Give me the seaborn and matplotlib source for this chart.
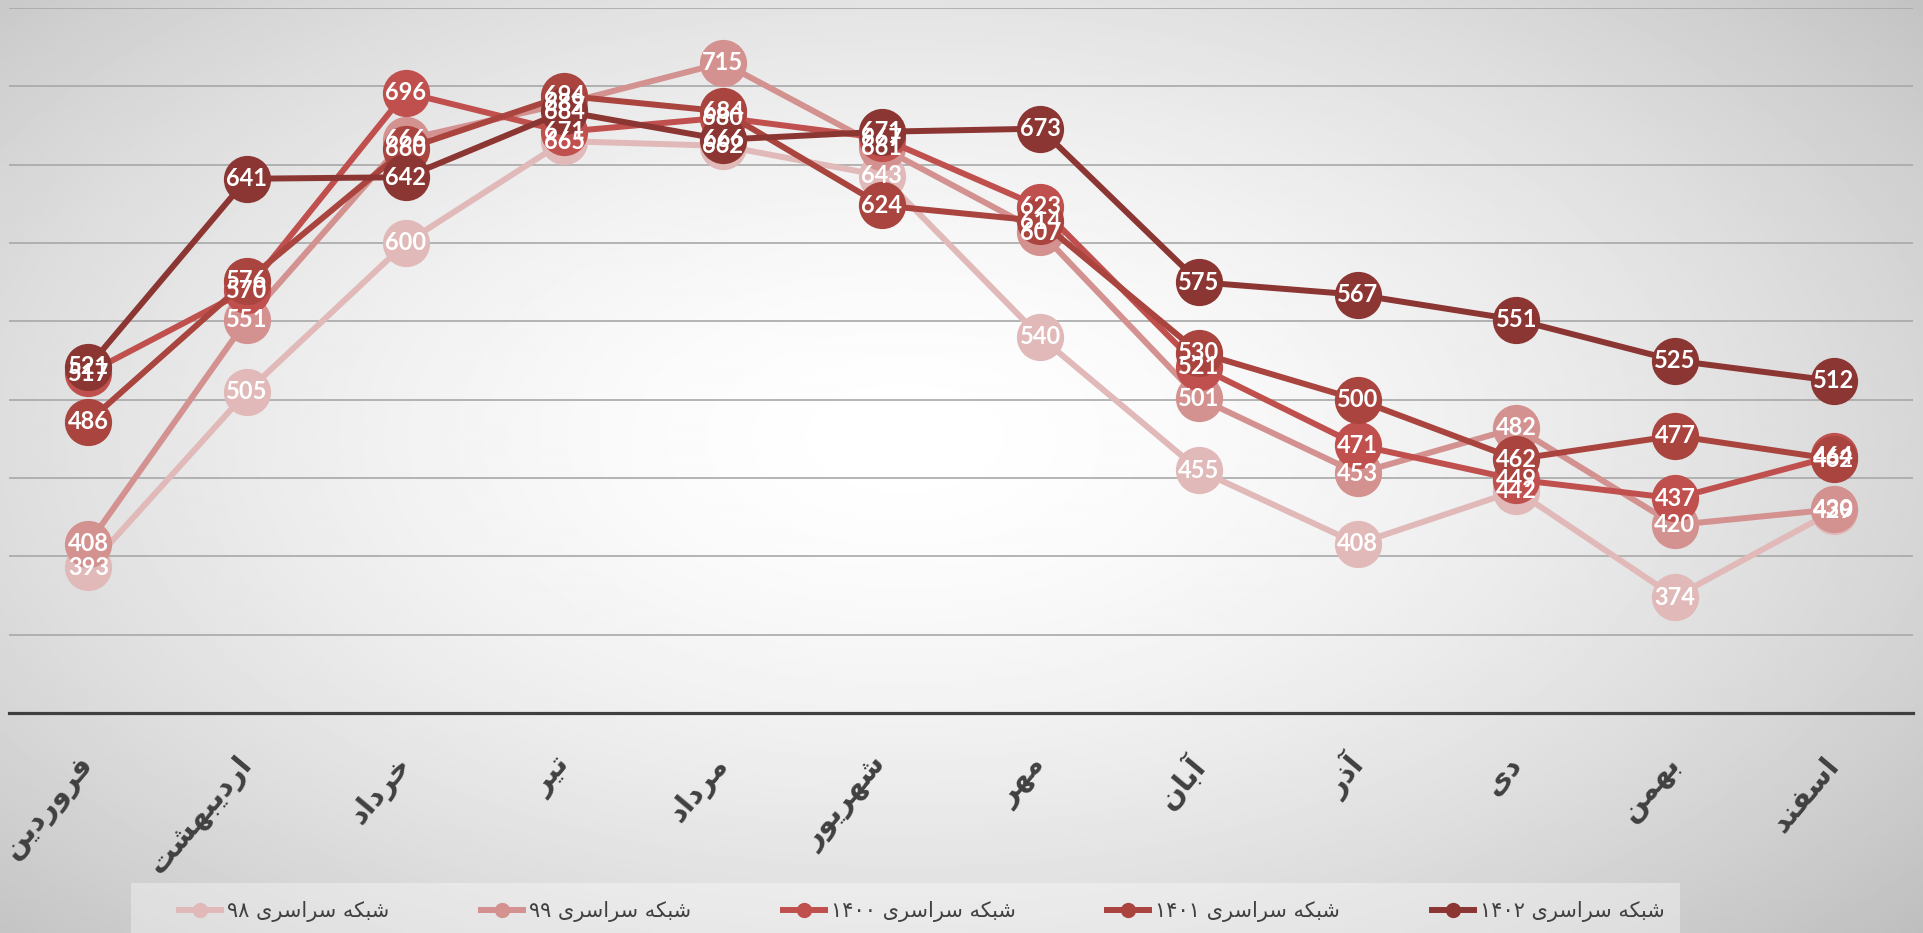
import numpy as np
import pandas as pd
import matplotlib
matplotlib.use('Agg')
import matplotlib.pyplot as plt
import seaborn as sns
from matplotlib.lines import Line2D
from matplotlib.patches import Rectangle

# data
months = ['فروردین', 'اردیبهشت', 'خرداد', 'تیر', 'مرداد', 'شهریور',
          'مهر', 'آبان', 'آذر', 'دی', 'بهمن', 'اسفند']
series_names = ['شبکه سراسری ۹۸', 'شبکه سراسری ۹۹', 'شبکه سراسری ۱۴۰۰',
                'شبکه سراسری ۱۴۰۱', 'شبکه سراسری ۱۴۰۲']
s98 = [393, 505, 600, 665, 662, 643, 540, 455, 408, 442, 374, 429]
s99 = [408, 551, 666, 689, 715, 661, 607, 501, 453, 482, 420, 430]
s1400 = [517, 570, 696, 671, 680, 667, 623, 521, 471, 449, 437, 464]
s1401 = [486, 576, 660, 694, 684, 624, 614, 530, 500, 462, 477, 462]
s1402 = [521, 641, 642, 684, 666, 671, 673, 575, 567, 551, 525, 512]
colors = ['#e0b9b8', '#d39190', '#c0504d', '#a9443f', '#8c3634']

# --- tiny persian shaper (matplotlib has no text shaping) ---
FORMS = {
    'ا': ('\uFE8D', '\uFE8E', None, None),
    'آ': ('\uFE81', '\uFE82', None, None),
    'ب': ('\uFE8F', '\uFE90', '\uFE91', '\uFE92'),
    'ت': ('\uFE95', '\uFE96', '\uFE97', '\uFE98'),
    'خ': ('\uFEA5', '\uFEA6', '\uFEA7', '\uFEA8'),
    'د': ('\uFEA9', '\uFEAA', None, None),
    'ذ': ('\uFEAB', '\uFEAC', None, None),
    'ر': ('\uFEAD', '\uFEAE', None, None),
    'س': ('\uFEB1', '\uFEB2', '\uFEB3', '\uFEB4'),
    'ش': ('\uFEB5', '\uFEB6', '\uFEB7', '\uFEB8'),
    'ف': ('\uFED1', '\uFED2', '\uFED3', '\uFED4'),
    'م': ('\uFEE1', '\uFEE2', '\uFEE3', '\uFEE4'),
    'ن': ('\uFEE5', '\uFEE6', '\uFEE7', '\uFEE8'),
    'ه': ('\uFEE9', '\uFEEA', '\uFEEB', '\uFEEC'),
    'و': ('\uFEED', '\uFEEE', None, None),
    'ی': ('\uFBFC', '\uFBFD', '\uFBFE', '\uFBFF'),
    'ک': ('\uFB8E', '\uFB8F', '\uFB90', '\uFB91'),
}


def fa(text):
    out = []
    for i, c in enumerate(text):
        if c not in FORMS:
            out.append(c)
            continue
        prev = text[i - 1] if i > 0 else ''
        nxt = text[i + 1] if i + 1 < len(text) else ''
        jp = prev in FORMS and FORMS[prev][2] is not None
        jn = FORMS[c][2] is not None and nxt in FORMS
        iso, fin, ini, med = FORMS[c]
        if jp and jn:
            out.append(med)
        elif jp:
            out.append(fin)
        elif jn:
            out.append(ini)
        else:
            out.append(iso)
    rev = ''.join(out)[::-1]
    # keep digit runs left-to-right
    res, run = '', ''
    for ch in rev:
        if '\u06F0' <= ch <= '\u06F9' or ch.isdigit():
            run += ch
        else:
            res += run[::-1] + ch
            run = ''
    return res + run[::-1]


rows = []
for name, vals in zip(series_names, [s98, s99, s1400, s1401, s1402]):
    for i, v in enumerate(vals):
        rows.append({'x': i, 'value': v, 'series': name})
df = pd.DataFrame(rows)

fig = plt.figure(figsize=(19.24, 9.33), dpi=100)

# radial grey background
bg = fig.add_axes([0, 0, 1, 1], zorder=-10)
yy, xx = np.mgrid[0:1:466j, 0:1:962j]
d = np.sqrt(((xx - 0.47) / 0.55) ** 2 + ((yy - 0.47) / 0.62) ** 2)
img = 1 - 0.17 * np.clip(d, 0, 1.4) ** 1.6
bg.imshow(img, cmap='gray', vmin=0, vmax=1, aspect='auto', extent=[0, 1, 0, 1])
bg.axis('off')
# legend box
bg.add_patch(Rectangle((131 / 1924, 0), 1549 / 1924, 50 / 933,
                       transform=fig.transFigure, facecolor='white',
                       alpha=0.35, edgecolor='none'))

ax = fig.add_axes([9 / 1924, 1 - 713 / 933, 1904 / 1924, 705 / 933])
ax.patch.set_alpha(0)

sns.lineplot(data=df, x='x', y='value', hue='series', hue_order=series_names,
             palette=colors, marker='o', markersize=34, markeredgewidth=0,
             linewidth=4.3, legend=False, sort=False, errorbar=None,
             clip_on=False, ax=ax)

for vals in [s98, s99, s1400, s1401, s1402]:
    for i, v in enumerate(vals):
        ax.text(i, v, str(v), ha='center', va='center', color='white',
                fontsize=17, fontweight='bold', family='Lato', zorder=10)

ax.set_xlim(-0.5, 11.5)
ax.set_ylim(300, 750)
for g in range(350, 751, 50):
    ax.axhline(g, color='#a8a8a8', lw=1.2, zorder=0)
ax.set_yticks([])
ax.set_ylabel('')
ax.set_xlabel('')
for s in ['top', 'right', 'left']:
    ax.spines[s].set_visible(False)
ax.spines['bottom'].set_color('#3f3f3f')
ax.spines['bottom'].set_linewidth(2.3)

ax.set_xticks(range(12))
ax.set_xticklabels([fa(m) for m in months], rotation=50, ha='right', va='center',
                   rotation_mode='anchor', fontsize=21, fontweight='bold',
                   color='#404040', family='DejaVu Sans')
ax.tick_params(axis='x', length=0, pad=34)

handles = [Line2D([], [], color=c, lw=4.3, marker='o', markersize=10)
           for c in colors]
leg = fig.legend(handles, [fa(n) for n in series_names], ncol=5,
                 loc='center', bbox_to_anchor=(922 / 1924, 21 / 933),
                 frameon=False, handlelength=2.0, handletextpad=0.3,
                 columnspacing=4.4, borderaxespad=0, labelcolor='#404040',
                 prop={'family': 'DejaVu Sans', 'size': 15})

fig.savefig('out.png', dpi=100)
